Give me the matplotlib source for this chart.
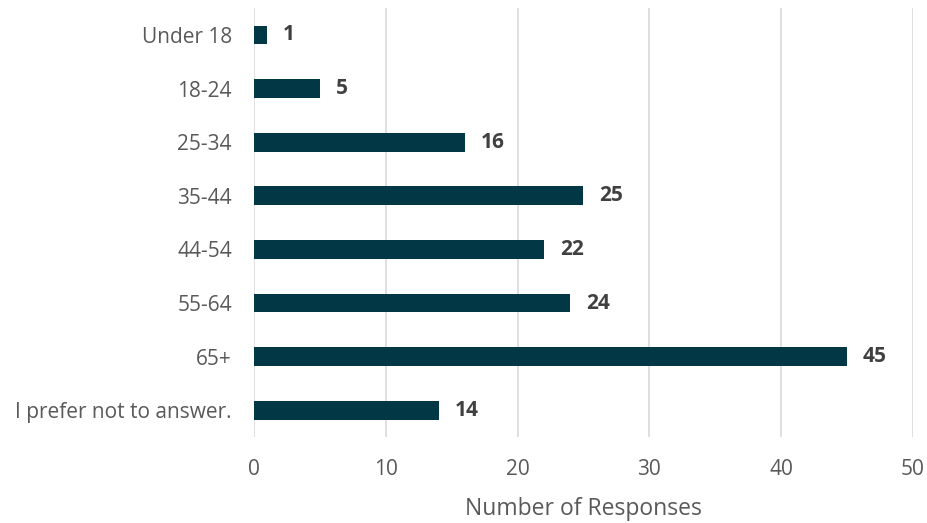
import matplotlib
matplotlib.use("Agg")
import matplotlib.pyplot as plt
import matplotlib.ticker as mticker

# ── Data ──────────────────────────────────────────────────────────────────────
categories = ["Under 18", "18-24", "25-34", "35-44", "44-54", "55-64", "65+",
              "I prefer not to answer."]
responses = [1, 5, 16, 25, 22, 24, 45, 14]
x_ticks = [0, 10, 20, 30, 40, 50]

# ── Style ─────────────────────────────────────────────────────────────────────
BAR_COLOR = "#023845"
TEXT_COLOR = "#595959"
LABEL_COLOR = "#404040"
GRID_COLOR = "#D9D9D9"

plt.rcParams["font.family"] = ["Open Sans", "DejaVu Sans"]

fig = plt.figure(figsize=(9.28, 5.23), dpi=100)
ax = fig.add_axes([0.2737, 0.1644, 0.7101, 0.820])

y = list(range(len(categories)))
ax.barh(y, responses, height=0.35, color=BAR_COLOR, zorder=3)

for yi, v in zip(y, responses):
    ax.text(v + 1.2, yi, str(v), va="center", ha="left", fontsize=15,
            fontweight="bold", color=LABEL_COLOR)

ax.set_ylim(len(categories) - 0.5, -0.5)
ax.set_xlim(0, 50)
ax.set_yticks(y)
ax.set_yticklabels(categories)
ax.set_xticks(x_ticks)
ax.xaxis.set_major_formatter(mticker.FormatStrFormatter("%d"))

ax.grid(axis="x", color=GRID_COLOR, linewidth=1.2, zorder=0)
for s in ax.spines.values():
    s.set_visible(False)
ax.tick_params(length=0, labelsize=15, colors=TEXT_COLOR)
ax.tick_params(axis="x", pad=16)
ax.tick_params(axis="y", pad=16)

ax.set_xlabel("Number of Responses", fontsize=16.5, color=TEXT_COLOR, labelpad=12)

fig.savefig("out.png", dpi=100)
